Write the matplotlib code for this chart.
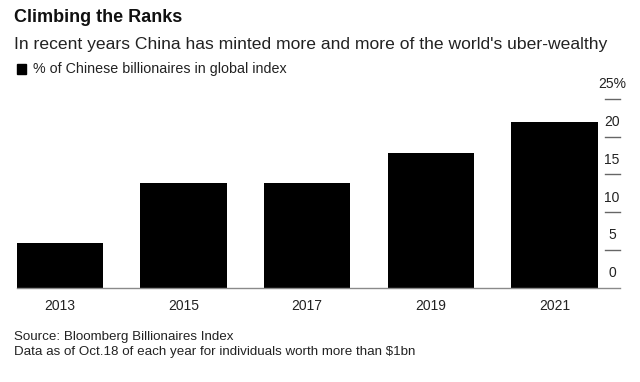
import matplotlib
matplotlib.use("Agg")
import matplotlib.pyplot as plt
import matplotlib.transforms as mtransforms

years = ["2013", "2015", "2017", "2019", "2021"]
share = [5.9, 13.9, 13.9, 17.9, 21.9]
yticks = [0, 5, 10, 15, 20, 25]
ytick_labels = ["0", "5", "10", "15", "20", "25%"]

plt.rcParams["font.family"] = ["Liberation Sans", "DejaVu Sans"]

fig = plt.figure(figsize=(6.4, 3.82), dpi=100)
ax = fig.add_axes([16.7 / 640, 1 - 287.5 / 382, (620 - 16.7) / 640, (287.5 - 99) / 382])

x = list(range(len(years)))
ax.bar(x, share, width=0.70, color="black", zorder=2)
ax.set_xlim(-0.35, 4.53)
ax.set_ylim(0, 25)

for s in ["top", "left", "right"]:
    ax.spines[s].set_visible(False)
ax.spines["bottom"].set_color("#8a8a8a")
ax.spines["bottom"].set_linewidth(1.0)

ax.set_xticks(x)
ax.set_xticklabels(years, fontsize=10, color="#222222")
ax.tick_params(axis="x", length=0, pad=8)
ax.set_yticks([])

# short right-hand tick marks with labels above them
trans = mtransforms.blended_transform_factory(ax.transAxes, ax.transData)
for v, lab in zip(yticks, ytick_labels):
    if v > 0:
        ax.plot([1 - 15 / 603.3, 1], [v, v], transform=trans, color="#666666",
                lw=1.0, clip_on=False, zorder=3)
    ax.text(1 - 8 / 603.3, v + 1.0, lab, transform=trans, ha="center",
            va="bottom", fontsize=10, color="#222222")

# header
fig.text(14 / 640, 1 - 18 / 382, "Climbing the Ranks", fontsize=13, fontweight="bold",
         va="center", ha="left", color="#111111")
fig.text(14 / 640, 1 - 44 / 382,
         "In recent years China has minted more and more of the world's uber-wealthy",
         fontsize=12.6, va="center", ha="left", color="#222222")
fig.patches.append(plt.Rectangle((17 / 640, 1 - 74 / 382), 9 / 640, 10 / 382,
                                 transform=fig.transFigure, color="black"))
fig.text(33 / 640, 1 - 69 / 382, "% of Chinese billionaires in global index",
         fontsize=10.3, va="center", ha="left", color="#222222")

# footer
fig.text(14 / 640, 1 - 337 / 382, "Source: Bloomberg Billionaires Index",
         fontsize=9.6, va="center", ha="left", color="#222222")
fig.text(14 / 640, 1 - 352 / 382,
         "Data as of Oct.18 of each year for individuals worth more than $1bn",
         fontsize=9.6, va="center", ha="left", color="#222222")

fig.savefig("out.png", dpi=100)
